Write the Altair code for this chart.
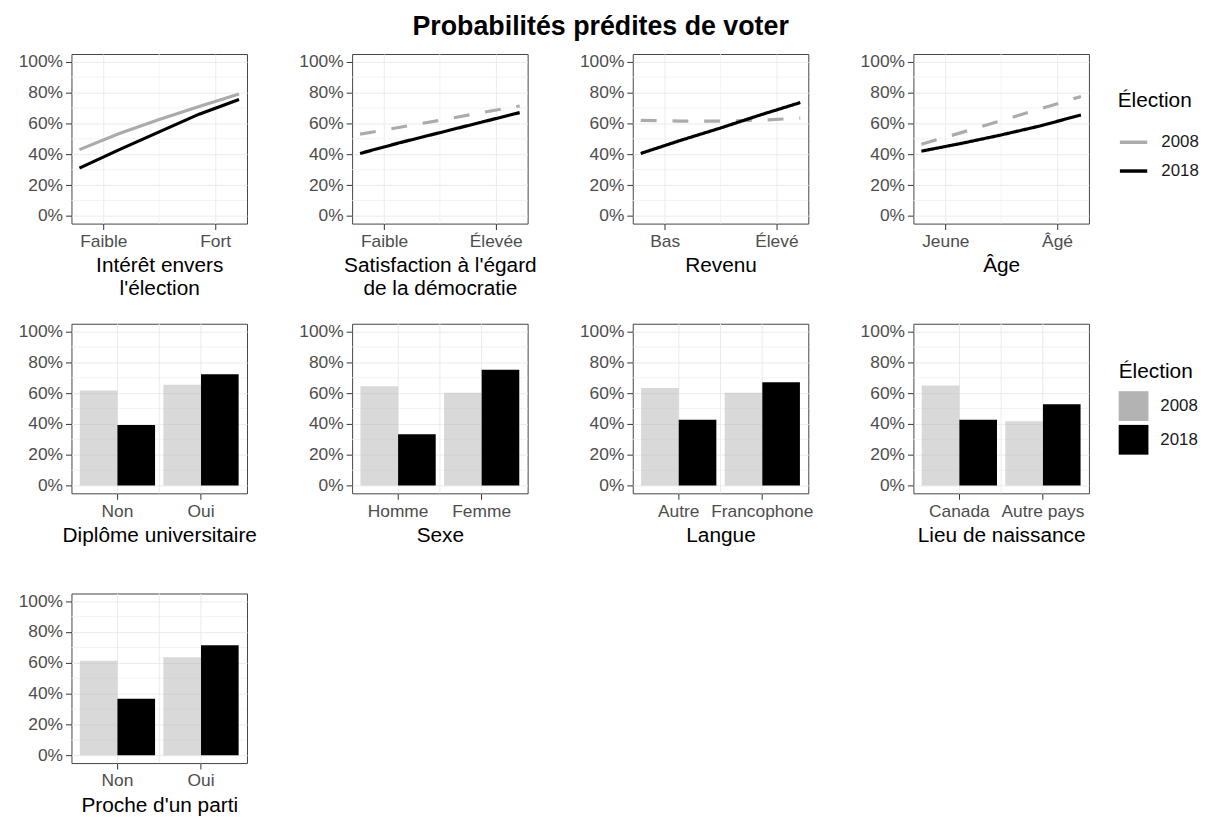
import altair as alt
import pandas as pd

FONT = "Liberation Sans"
YEARS = ["2008", "2018"]
LINE_COLORS = ["#ababab", "#000000"]
BAR_COLORS = ["#b3b3b3", "#000000"]

# ---- line panels -------------------------------------------------------
X_POS = [0.0, 0.25, 0.5, 0.75, 1.0]
X_TICKS = [0.15, 0.85]
X_MINOR = [0.5]
Y_MAJOR = [0, 20, 40, 60, 80, 100]
Y_MINOR = [10, 30, 50, 70, 90]

line_titles = [["Intérêt envers", "l'élection"],
               ["Satisfaction à l'égard", "de la démocratie"],
               "Revenu", "Âge"]
line_ticklabels = [["Faible", "Fort"], ["Faible", "Élevée"],
                   ["Bas", "Élevé"], ["Jeune", "Âgé"]]
line_dashed_2008 = [False, True, True, True]

interet_2008 = [43, 53.5, 62.5, 71, 79]
interet_2018 = [31, 43, 54.5, 66, 75.5]
satisf_2008 = [53, 57.5, 62, 66.8, 71.3]
satisf_2018 = [40.5, 47.5, 54, 60.5, 67]
revenu_2008 = [62, 61.5, 61.5, 62, 63.5]
revenu_2018 = [40.5, 49, 57, 65.5, 73.5]
age_2008 = [46.5, 54, 61.8, 69.6, 77.4]
age_2018 = [42, 47, 52.5, 58.5, 65.5]
line_series = [(interet_2008, interet_2018), (satisf_2008, satisf_2018),
               (revenu_2008, revenu_2018), (age_2008, age_2018)]

# ---- bar panels --------------------------------------------------------
bar_titles = ["Diplôme universitaire", "Sexe", "Langue",
              "Lieu de naissance", "Proche d'un parti"]
bar_cats = [["Non", "Oui"], ["Homme", "Femme"], ["Autre", "Francophone"],
            ["Canada", "Autre pays"], ["Non", "Oui"]]
diplome_2008 = [61.7, 65.5]
diplome_2018 = [39.4, 72.3]
sexe_2008 = [64.5, 60.3]
sexe_2018 = [33.3, 75.2]
langue_2008 = [63.4, 60.2]
langue_2018 = [42.8, 67.0]
naissance_2008 = [64.9, 41.7]
naissance_2018 = [42.8, 52.8]
parti_2008 = [61.3, 63.7]
parti_2018 = [36.8, 71.4]
bar_series = [(diplome_2008, diplome_2018), (sexe_2008, sexe_2018),
              (langue_2008, langue_2018), (naissance_2008, naissance_2018),
              (parti_2008, parti_2018)]
BAR_MID = [1.5]

W, H = 177, 171
MINOR_COLOR = "#f0f0f0"


def y_enc():
    return alt.Y("value:Q",
                 scale=alt.Scale(domain=[-5, 105], nice=False, zero=False),
                 axis=alt.Axis(values=Y_MAJOR, labelExpr="datum.value + '%'",
                               title=None, grid=True))


def line_panel(i, legend):
    lo, hi = line_ticklabels[i]
    v08, v18 = line_series[i]
    df = pd.DataFrame({
        "x": X_POS + X_POS,
        "value": v08 + v18,
        "year": ["2008"] * len(X_POS) + ["2018"] * len(X_POS),
    })
    x = alt.X("x:Q", scale=alt.Scale(domain=[-0.05, 1.05], nice=False, zero=False),
              axis=alt.Axis(values=X_TICKS, grid=True, title=line_titles[i],
                            labelExpr=f"datum.value < 0.5 ? '{lo}' : '{hi}'"))
    minor_y = alt.Chart(pd.DataFrame({"value": Y_MINOR})).mark_rule(
        color=MINOR_COLOR, strokeWidth=0.8).encode(y=y_enc())
    minor_x = alt.Chart(pd.DataFrame({"x": X_MINOR})).mark_rule(
        color=MINOR_COLOR, strokeWidth=0.8).encode(x=x)
    if legend:
        # legend owned by the first (solid-line) panel, placed right of the row
        leg = alt.Legend(title="Élection", orient="none", legendX=206 + 3 * 283, legendY=36,
                         symbolType="stroke", symbolStrokeWidth=3.5, symbolSize=760,
                         titlePadding=16, rowPadding=5, labelOffset=12)
    else:
        leg = None
    enc = dict(x=x, y=y_enc(),
               color=alt.Color("year:N", scale=alt.Scale(domain=YEARS, range=LINE_COLORS),
                               legend=leg))
    if line_dashed_2008[i]:
        enc["strokeDash"] = alt.StrokeDash(
            "year:N", scale=alt.Scale(domain=YEARS, range=[[16, 16], [1, 0]]), legend=None)
    lines = alt.Chart(df).mark_line(strokeWidth=3.2).encode(**enc)
    return alt.layer(minor_y, minor_x, lines).properties(width=W, height=H)


def bar_panel(i, legend):
    cats = bar_cats[i]
    v08, v18 = bar_series[i]
    df = pd.DataFrame({
        "cat": cats + cats,
        "year": ["2008"] * 2 + ["2018"] * 2,
        "value": v08 + v18,
    })
    x = alt.X("cat:N", sort=cats,
              scale=alt.Scale(domain=cats, paddingInner=0.1, paddingOuter=0.1),
              axis=alt.Axis(title=bar_titles[i], labelAngle=0, grid=True, bandPosition=0.5))
    if legend:
        leg = alt.Legend(title="Élection", orient="none", legendX=207, legendY=38,
                         symbolType="square", symbolSize=900, symbolStrokeWidth=0,
                         titlePadding=9, rowPadding=4, labelOffset=12)
    else:
        leg = None
    bars = alt.Chart(df).mark_bar().encode(
        x=x,
        xOffset=alt.XOffset("year:N", sort=YEARS,
                            scale=alt.Scale(domain=YEARS, paddingInner=0, paddingOuter=0)),
        y=y_enc(),
        y2=alt.datum(0),
        color=alt.Color("year:N", scale=alt.Scale(domain=YEARS, range=BAR_COLORS), legend=leg),
        opacity=alt.condition(alt.datum.year == "2008", alt.value(0.5), alt.value(1.0)),
    )
    minor_y = alt.Chart(pd.DataFrame({"value": Y_MINOR})).mark_rule(
        color=MINOR_COLOR, strokeWidth=0.8).encode(y=y_enc())
    mid = alt.Chart(pd.DataFrame({"pos": BAR_MID})).mark_rule(
        color="#ebebeb", strokeWidth=1).encode(
        x=alt.X("pos:Q", scale=alt.Scale(domain=[0.45, 2.55], nice=False, zero=False), axis=None))
    return alt.layer(minor_y, mid, bars).resolve_scale(x="independent").properties(width=W, height=H)


panels = [line_panel(i, i == 0) for i in range(4)] + \
         [bar_panel(i, i == 3) for i in range(5)]

chart = alt.concat(*panels, columns=4, bounds="flush",
                   spacing={"row": 101, "column": 106}) \
    .resolve_scale(color="independent", strokeDash="independent") \
    .properties(
        title=alt.Title("Probabilités prédites de voter", fontSize=27, fontWeight="bold",
                        anchor="middle", offset=11, dx=-8, color="#000000"),
        padding={"left": 9, "top": 2, "right": 0, "bottom": 0},
    ) \
    .configure(font=FONT) \
    .configure_view(stroke="#444444", strokeWidth=1) \
    .configure_axis(domain=False, tickColor="#333333", tickSize=6, tickWidth=1,
                    labelColor="#4d4d4d", labelFontSize=17.5, labelPadding=3,
                    titleColor="#000000", titleFontSize=21, titleFontWeight="normal",
                    titlePadding=5, titleLineHeight=23,
                    gridColor="#ebebeb", gridWidth=1) \
    .configure_legend(titleFontSize=21, titleFontWeight="normal", titleColor="#000000",
                      labelFontSize=17, labelColor="#1a1a1a", padding=0)

chart.save("out.html", embed_options={"renderer": "svg", "actions": False})
